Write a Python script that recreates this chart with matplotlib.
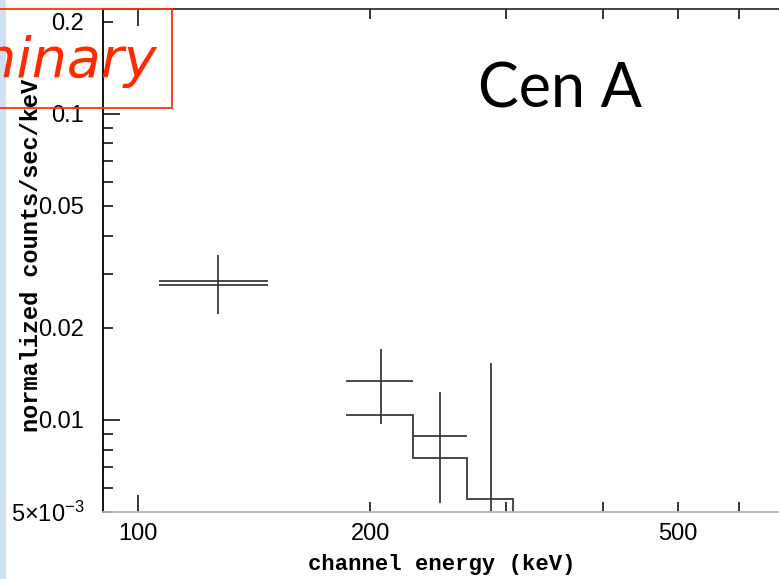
import matplotlib
matplotlib.use("Agg")
import matplotlib.pyplot as plt
from matplotlib.patches import Rectangle
from matplotlib.ticker import LogLocator, FuncFormatter

# ---------- data ----------
# channel bins (keV)
bin_lo = [106.5, 185.9, 227.1, 266.8]
bin_hi = [147.4, 227.1, 266.8, 306.0]
bin_cen = [126.9, 206.4, 246.2, 286.5]
# measured rate and 1-sigma error (counts/sec/keV)
rate = [0.0284, 0.0134, 0.00886, 0.0030]
rate_err = [0.0062, 0.0037, 0.0035, 0.0123]
# folded model per bin; the last one continues below the plot
model_first = [0.0276]
model_rest = [0.01037, 0.0075, 0.0055, 0.0040]
model_rest_edges = [185.9, 227.1, 266.8, 306.0, 350.0]

ytick_text = {0.005: "5\u00d710$^{-3}$", 0.01: "0.01", 0.02: "0.02",
              0.05: "0.05", 0.1: "0.1", 0.2: "0.2"}
xtick_text = {100: "100", 200: "200", 500: "500"}

W, H = 779, 579
plt.rcParams["mathtext.fontset"] = "custom"
plt.rcParams["mathtext.rm"] = "Liberation Sans"
plt.rcParams["mathtext.it"] = "Liberation Sans"

fig = plt.figure(figsize=(W / 100, H / 100), dpi=100)
fig.patch.set_facecolor("white")

# light blue slide edge on the left
fig.patches.append(Rectangle((0, 0), 6 / W, 1, transform=fig.transFigure,
                             facecolor="#cfe0f4", edgecolor="none", zorder=0))

ax = fig.add_axes([103 / W, 67 / H, (785 - 103) / W, 503 / H])
ax.set_xscale("log")
ax.set_yscale("log")
ax.set_xlim(90.1, 689)
ax.set_ylim(0.005, 0.22)

line_col = "#3a3a3a"
xerr = [[c - lo for c, lo in zip(bin_cen, bin_lo)],
        [hi - c for c, hi in zip(bin_cen, bin_hi)]]
yerr_lo = [min(e, r - 1e-5) for r, e in zip(rate, rate_err)]
ax.errorbar(bin_cen, rate, xerr=xerr, yerr=[yerr_lo, rate_err], fmt="none",
            ecolor=line_col, elinewidth=1.3, capsize=0)

ax.stairs(model_first, [bin_lo[0], bin_hi[0]], baseline=None,
          color=line_col, lw=1.3)
ax.stairs(model_rest, model_rest_edges, baseline=None, color=line_col, lw=1.3)

# ticks
ax.yaxis.set_major_locator(LogLocator(base=10))
ax.yaxis.set_minor_locator(LogLocator(base=10, subs=range(2, 10)))
ax.xaxis.set_major_locator(LogLocator(base=10))
ax.xaxis.set_minor_locator(LogLocator(base=10, subs=range(2, 10)))


def lookup(table):
    def fmt(v, pos):
        for k, s in table.items():
            if abs(v - k) / k < 1e-3:
                return s
        return ""
    return FuncFormatter(fmt)


for axis, table in ((ax.yaxis, ytick_text), (ax.xaxis, xtick_text)):
    axis.set_major_formatter(lookup(table))
    axis.set_minor_formatter(lookup(table))

ax.tick_params(which="both", direction="in", top=True, right=False,
               colors="black", labelsize=17, width=1.1)
ax.tick_params(which="major", length=12)
ax.tick_params(which="minor", length=7)
ax.tick_params(axis="y", which="both", pad=13.5)
ax.tick_params(axis="x", which="both", pad=8)
for lab in ax.get_xticklabels(which="both") + ax.get_yticklabels(which="both"):
    lab.set_fontfamily("Liberation Sans")

ax.spines["left"].set_color("black")
ax.spines["top"].set_color("#333333")
ax.spines["bottom"].set_color("#b5b5b5")
for s in ax.spines.values():
    s.set_linewidth(1.3)

ax.set_xlabel("channel energy (keV)", family="Liberation Mono", fontsize=16,
              fontweight="bold")
ax.set_ylabel("normalized counts/sec/keV", family="Liberation Mono",
              fontsize=17, fontweight="bold")
ax.yaxis.set_label_coords(43 / W, (579 - 255) / H, transform=fig.transFigure)
ax.xaxis.set_label_coords(442 / W, (579 - 554) / H, transform=fig.transFigure)

# source name
fig.text(560 / W, 1 - 90 / H, "Cen A", family="Lato", fontsize=44,
         ha="center", va="center")

# "Preliminary" stamp, cut by the left edge
fig.patches.append(Rectangle((-5 / W, 1 - 108 / H), 177 / W, 99 / H,
                             transform=fig.transFigure, facecolor="none",
                             edgecolor="#ff3010", lw=1.3, zorder=5))
fig.text(157 / W, 1 - 62 / H, "Preliminary", family="DejaVu Sans",
         style="oblique", fontsize=40, color="#ff2a00", ha="right",
         va="center", zorder=6)

fig.savefig("out.png", dpi=100)
